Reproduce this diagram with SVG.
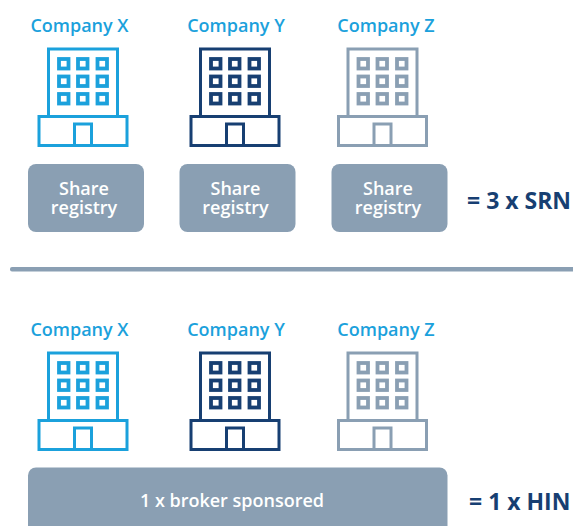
<svg xmlns="http://www.w3.org/2000/svg" width="573" height="526" viewBox="0 0 573 526">
<style>
text{font-family:"Open Sans","Liberation Sans",sans-serif}
.n{font-size:18px;font-weight:600;fill:#1ba1dc;text-anchor:middle}
.s{font-size:18px;font-weight:600;fill:#fff;text-anchor:middle}
.e{font-size:23px;font-weight:700;fill:#173f72}
.b{fill:#8a9fb3}
.f{fill:none;stroke-width:3}
.w{fill:none;stroke-width:3.800}
.cx{stroke:#1ba1dc}.cy{stroke:#173f72}.cz{stroke:#8a9fb3}
</style>
<defs>
<g id="bld">
<rect x="48.500" y="49" width="69" height="67.500" class="f"/>
<rect x="39" y="116.500" width="88" height="29" class="f"/>
<rect x="74.500" y="124" width="17" height="21.500" class="f"/>
<g class="w">
<rect x="59" y="59" width="9.500" height="9.500"/><rect x="78" y="59" width="9.500" height="9.500"/><rect x="97.500" y="59" width="9.500" height="9.500"/>
<rect x="59" y="76.500" width="9.500" height="9.500"/><rect x="78" y="76.500" width="9.500" height="9.500"/><rect x="97.500" y="76.500" width="9.500" height="9.500"/>
<rect x="59" y="94" width="9.500" height="9.500"/><rect x="78" y="94" width="9.500" height="9.500"/><rect x="97.500" y="94" width="9.500" height="9.500"/>
</g>
</g>
</defs>
<g id="connectors"/>
<g id="top-x"><text class="n" x="79.500" y="32">Company X</text><use href="#bld" class="cx"/></g>
<g id="top-y"><text class="n" x="236" y="32">Company Y</text><use href="#bld" x="152" class="cy"/></g>
<g id="top-z"><text class="n" x="386" y="32">Company Z</text><use href="#bld" x="299.500" class="cz"/></g>
<g id="reg-x"><rect class="b" x="28" y="164" width="116" height="68" rx="8"/><text class="s" x="84" y="195">Share</text><text class="s" x="84" y="214">registry</text></g>
<g id="reg-y"><rect class="b" x="179.500" y="164" width="116" height="68" rx="8"/><text class="s" x="235.500" y="195">Share</text><text class="s" x="235.500" y="214">registry</text></g>
<g id="reg-z"><rect class="b" x="331.500" y="164" width="116" height="68" rx="8"/><text class="s" x="388" y="195">Share</text><text class="s" x="388" y="214">registry</text></g>
<text id="srn" class="e" x="467" y="209">= 3 x SRN</text>
<rect id="divider" class="b" x="10" y="267" width="570" height="4.500" rx="2"/>
<g id="bot-x"><text class="n" x="79.500" y="336">Company X</text><use href="#bld" y="304" class="cx"/></g>
<g id="bot-y"><text class="n" x="236" y="336">Company Y</text><use href="#bld" x="152" y="304" class="cy"/></g>
<g id="bot-z"><text class="n" x="386" y="336">Company Z</text><use href="#bld" x="299.500" y="304" class="cz"/></g>
<g id="broker"><rect class="b" x="28" y="467.500" width="419.500" height="70" rx="8"/><text class="s" x="232" y="507">1 x broker sponsored</text></g>
<text id="hin" class="e" x="469" y="510">= 1 x HIN</text>
</svg>
